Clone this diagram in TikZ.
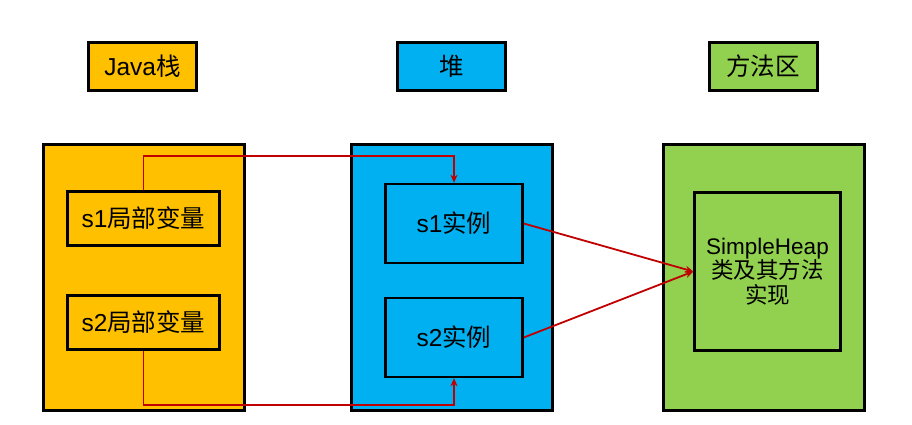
\documentclass[tikz,border=0pt]{standalone}
\usepackage{fontspec}
\setmainfont{Liberation Sans}
\newfontfamily\cjk{Noto Sans CJK SC}
\usetikzlibrary{arrows.meta, positioning}
\definecolor{stackorange}{HTML}{FFC000}
\definecolor{heapblue}{HTML}{00B0F0}
\definecolor{methgreen}{HTML}{92D050}
\definecolor{refred}{HTML}{C00000}
\tikzset{
  areabox/.style={draw=black, line width=3pt, minimum width=201pt, minimum height=266pt, inner sep=0pt},
  titlebox/.style={draw=black, line width=3pt, minimum width=108pt, minimum height=48pt, inner sep=0pt, font=\fontsize{24.5}{28}\selectfont},
  varbox/.style={draw=black, line width=2.5pt, fill=stackorange, minimum width=152pt, minimum height=54pt, inner sep=0pt, font=\fontsize{24.5}{28}\selectfont},
  objbox/.style={draw=black, line width=2.5pt, fill=heapblue, minimum width=137pt, minimum height=79pt, inner sep=0pt, font=\fontsize{24.5}{28}\selectfont},
  classbox/.style={draw=black, line width=2.5pt, fill=methgreen, minimum width=146pt, minimum height=158pt, inner sep=0pt, align=center, font=\fontsize{22.5}{24.5}\selectfont},
  refline/.style={-{Stealth[length=8pt, width=7pt]}, line width=1.8pt, draw=refred}
}

\begin{document}
\begin{tikzpicture}[x=1pt, y=-1pt]
  \useasboundingbox (0,0) rectangle (912,425);

  % titles
  \node[titlebox, fill=stackorange] at (142.5,66.5) (tstack) {Java\cjk{栈}};
  \node[titlebox, fill=heapblue] at (451.5,66.5) (theap) {\cjk{堆}};
  \node[titlebox, fill=methgreen] at (763,66.5) (tmeth) {\cjk{方法区}};

  % memory areas
  \node[areabox, fill=stackorange] at (144,277) (stack) {};
  \node[areabox, fill=heapblue] at (451.5,277) (heap) {};
  \node[areabox, fill=methgreen] at (764,277) (meth) {};

  \node[varbox] at (143.5,218.5) (s1var) {s1\cjk{局部变量}};
  \node[varbox] at (143.5,322.5) (s2var) {s2\cjk{局部变量}};
  \node[objbox] at (454,223.5) (s1obj) {s1\cjk{实例}};
  \node[objbox] at (454,337.5) (s2obj) {s2\cjk{实例}};
  \node[classbox] at (767.5,271.5) (class)
    {SimpleHeap\\ \cjk{类及其方法}\\ \cjk{实现}};

  \draw[refline] (s1var.north) -- ++(0,-34) -| (s1obj.north);
  \draw[refline] (s2var.south) -- ++(0,54) -| (s2obj.south);
  \draw[refline] (s1obj.east) -- (class.west);
  \draw[refline] (s2obj.east) -- (class.west);
\end{tikzpicture}
\end{document}
